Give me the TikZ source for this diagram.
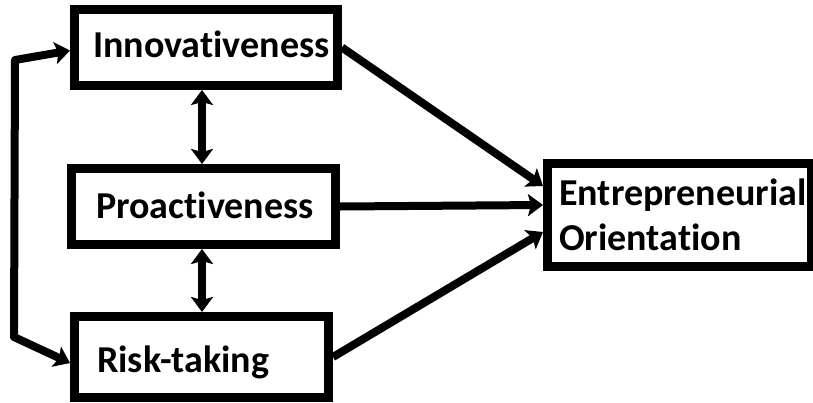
\documentclass[tikz,border=0pt]{standalone}
\usepackage{fontspec}
\setmainfont{Carlito}[Ligatures=NoCommon,RawFeature={-liga;-dlig;-clig}]
\usetikzlibrary{arrows.meta}
\begin{document}
\begin{tikzpicture}[x=1pt,y=-1pt,
  box/.style={draw=black, line width=9pt, rectangle, inner sep=0pt},
  lbl/.style={anchor=base west, inner sep=0pt, font=\fontsize{38}{46}\selectfont\bfseries},
  conn/.style={line width=8pt, line join=round, {Stealth[length=15pt,width=22pt,inset=3pt]}-{Stealth[length=15pt,width=22pt,inset=3pt]}},
  one/.style={line width=8pt, -{Stealth[length=15pt,width=22pt,inset=3pt]}}]
\useasboundingbox (0,0) rectangle (813,402);
\fill[white] (0,0) rectangle (813,402);
% boxes
\node[box, minimum width=263pt, minimum height=76pt] (inn) at (206,47.5) {};
\node[box, minimum width=264pt, minimum height=76pt] (pro) at (203.5,206.5) {};
\node[box, minimum width=254pt, minimum height=81pt] (rt) at (201.5,357) {};
\node[box, minimum width=264pt, minimum height=103pt] (eo) at (679.5,215) {};
% labels
\node[lbl] (innt) at (93,57) {Innovativeness};
\node[lbl] (prot) at (96,218) {Proactiveness};
\node[lbl] (rtt) at (97,372) {Risk-taking};
\node[lbl] (eot1) at (559,205) {Entrepreneurial};
\node[lbl] (eot2) at (559,250) {Orientation};
% helper coordinates
\coordinate (vx) at (202,0);
\coordinate (c1) at (15,60);
\coordinate (c2) at (14,337);
% vertical double arrows
\draw[conn] (inn.south -| vx) -- (pro.north -| vx);
\draw[conn] (pro.south -| vx) -- (rt.north -| vx);
% left loop
\draw[conn] ([yshift=-3pt]inn.west) -- (c1) -- (c2) -- ([yshift=-6pt]rt.west);
% arrows into EO
\draw[one] (inn.east) -- ([yshift=29pt]eo.west);
\draw[one] (pro.east) -- ([yshift=10pt]eo.west);
\draw[one] (rt.east) -- ([yshift=-17pt]eo.west);
\end{tikzpicture}
\end{document}
